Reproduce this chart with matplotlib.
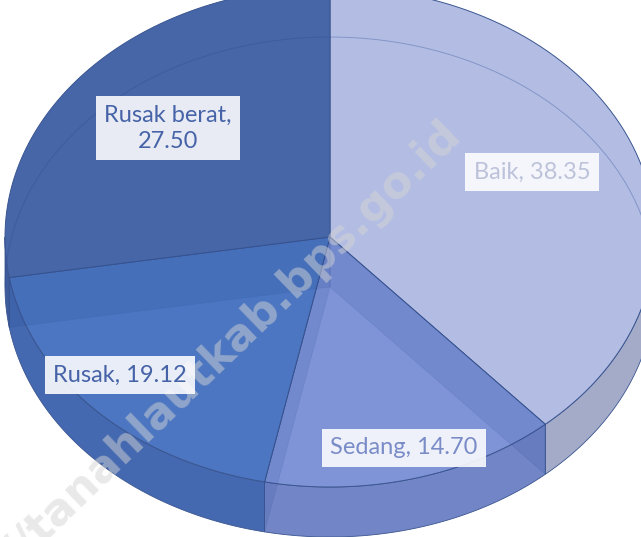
import numpy as np
import matplotlib.pyplot as plt
from matplotlib.patches import Polygon

# data
categories = ['Baik', 'Sedang', 'Rusak', 'Rusak berat']
values = [38.35, 14.70, 19.12, 27.50]
top_colors = ['#B3BDE3', '#7E94D6', '#4C76C1', '#4766A8']
side_colors = ['#A4ABC9', '#7285C6', '#4469B0', '#3E5C9C']
text_colors = ['#BCC2DA', '#7A8CC8', '#4663A8', '#4663A8']
label_pos = [(532, 172), (404, 448), (120, 375), (168, 128)]
watermark = 'https://tanahlautkab.bps.go.id'

# pie geometry in pixel coords (y down)
cx, cy = 330, 237
a, b, h = 325, 250, 50


def pt(theta, r=1.0, bottom=False):
    t = np.radians(theta)
    x = cx + a * r * np.sin(t)
    y = cy - b * r * np.cos(t) + (h if bottom else 0)
    return x, y


def arc(t0, t1, bottom=False, n=80):
    th = np.linspace(t0, t1, n)
    xs, ys = pt(th, 1.0, bottom)
    return np.column_stack([xs, ys])


fig = plt.figure(figsize=(6.41, 5.37), dpi=100)
ax = fig.add_axes([0, 0, 1, 1])
ax.set_xlim(0, 641)
ax.set_ylim(537, 0)
ax.axis('off')

total = sum(values)
angles = np.concatenate([[0], np.cumsum(values) / total * 360])

# outer walls (front half only)
for i in range(len(values)):
    s, e = max(angles[i], 90), min(angles[i + 1], 270)
    if e <= s:
        continue
    top = arc(s, e)
    bot = arc(s, e, bottom=True)[::-1]
    ax.add_patch(Polygon(np.vstack([top, bot]), closed=True, fc=side_colors[i],
                         ec='#3A5590', lw=0.6, zorder=2))

# top faces
for i in range(len(values)):
    pts = np.vstack([[pt(angles[i], 0)], arc(angles[i], angles[i + 1])])
    ax.add_patch(Polygon(pts, closed=True, fc=top_colors[i], ec='#3A5590',
                         lw=0.7, zorder=3))

# hidden structure seen through the semi transparent slices
for phi in angles[1:-1]:
    face = [pt(phi, 0), pt(phi, 1), pt(phi, 1, True), pt(phi, 0, True)]
    ax.add_patch(Polygon(face, closed=True, fc='#1F3F8F', alpha=0.12,
                         ec='#2A4A90', lw=0.6, zorder=4))
back = arc(270, 450, bottom=True)
ax.plot(back[:, 0], back[:, 1], color='#2A4A90', lw=0.7, alpha=0.35, zorder=4)

# data labels
for i, name in enumerate(categories):
    txt = f'{name},\n{values[i]:.2f}' if name == 'Rusak berat' else f'{name}, {values[i]:.2f}'
    x, y = label_pos[i]
    ax.text(x, y, txt, ha='center', va='center', fontsize=17, family='Lato',
            color=text_colors[i], linespacing=1.3, zorder=6,
            bbox=dict(boxstyle='square,pad=0.35', fc='white', ec='none', alpha=0.88))

# watermark
ax.text(-90, 670, watermark, rotation=44, rotation_mode='anchor', ha='left',
        va='baseline', fontsize=32, fontweight='bold', family='DejaVu Sans',
        color='#D4D4D4', alpha=0.5, zorder=5)

fig.savefig('out.png', dpi=100)
